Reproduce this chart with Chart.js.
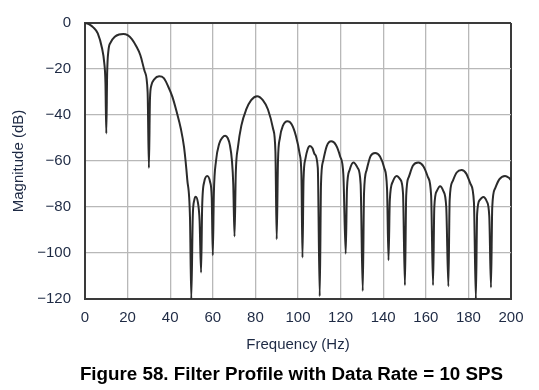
<!DOCTYPE html>
<html>
<head>
<meta charset="utf-8">
<script src="https://cdn.jsdelivr.net/npm/chart.js@4.4.0/dist/chart.umd.min.js"></script>
<style>
  html, body { margin: 0; padding: 0; background: #fff; }
  #wrap { position: relative; width: 539px; height: 390px; }
  #caption {
    position: absolute; left: 44px; width: 495px; top: 363px;
    text-align: center; font: bold 18.8px "Liberation Sans", Arial, sans-serif;
    color: #000; white-space: nowrap;
  }
</style>
</head>
<body>
<div id="wrap">
  <canvas id="chart" width="539" height="390"></canvas>
  <div id="caption">Figure 58. Filter Profile with Data Rate = 10 SPS</div>
</div>
<script>
// frequency (Hz) and magnitude (dB)
let freq = [
  0, 2, 4, 6, 8, 9, 9.6, 10,
  10.4, 11, 12, 14, 16, 18, 20, 22, 24, 26, 28, 29.4, 30,
  30.5, 31.2, 32.5, 34.8, 37, 39, 41, 43, 45, 46.5, 48, 49.3, 49.9,
  50.6, 51.3, 52, 53, 53.8, 54.5,
  55, 56, 57.4, 58.7, 59.5, 60,
  60.5, 61.5, 63, 64.5, 65.8, 67, 68, 69, 69.6, 70.2,
  70.8, 71.8, 73.4, 75.7, 78, 80.8, 83.5, 85.9, 88.3, 89.4, 90,
  90.6, 91.5, 93, 95, 97, 99, 100.8, 101.6, 102.1,
  102.6, 103.5, 104.5, 105.6, 106.8, 107.8, 109.3, 110.2,
  110.8, 111.8, 113.5, 115.6, 117.8, 119.8, 121.3, 122.4,
  123, 124.2, 126, 128, 129.4, 130.4,
  131, 132.2, 134, 136.2, 138.5, 140.5, 141.8, 142.5,
  143.1, 144.5, 146.3, 148, 149.3, 150.2,
  150.8, 152, 154, 156.5, 159, 161, 162.5, 163.4,
  164, 165.2, 166.7, 168.2, 169.6, 170.6,
  171.2, 172.5, 174.5, 176.8, 179, 181, 182.6, 183.5,
  184.1, 185.3, 187, 188.6, 189.8, 190.6,
  191.2, 192.5, 194.5, 197.2, 199, 200
];
let magnitude = [
  0, -0.6, -2, -4.5, -11, -17, -26, -48,
  -22, -12, -8.5, -6, -5, -4.8, -5.3, -7, -10, -14, -21, -30, -63,
  -33, -27, -24.5, -23.2, -24, -27.5, -32, -38.5, -46, -54, -68, -85, -120,
  -84, -77, -75.5, -78, -86, -108.5,
  -80, -69, -66.5, -69, -76, -101,
  -74, -60, -52.5, -49.8, -49, -50, -53, -60, -70, -92.8,
  -65, -54, -44.6, -37.6, -33.5, -31.8, -33.5, -37.6, -46, -56, -94,
  -60, -50, -44.5, -42.7, -44, -49, -57, -66, -102,
  -68, -59, -55, -53.5, -54.5, -57, -63, -118.8,
  -70, -60, -53.5, -51.4, -53, -58, -66, -100.3,
  -72, -64, -60.7, -63, -70, -116.5,
  -74, -64, -58, -56.5, -58, -63, -72, -103.2,
  -77, -69, -66.5, -68, -74, -114,
  -75, -67, -62, -60.7, -62.5, -67, -75, -114,
  -80, -73, -71, -73, -80, -114.5,
  -77, -69, -65, -63.9, -65.5, -70, -78, -120,
  -83, -77, -75.6, -77.5, -84, -115,
  -80, -72, -68, -66.5, -67.3, -68.3
];
let xTicks = [0, 20, 40, 60, 80, 100, 120, 140, 160, 180, 200];
let yTicks = [0, -20, -40, -60, -80, -100, -120];

let points = freq.map((f, i) => ({ x: f, y: magnitude[i] }));

const tickFont = { family: "'Liberation Sans', Arial, sans-serif", size: 15 };
const tickColor = '#1e2a44';
const gridColor = (lo, hi) => ctx => (ctx.tick && (ctx.tick.value === lo || ctx.tick.value === hi)) ? '#3a3a3a' : '#b8b8b8';
const gridWidth = (lo, hi) => ctx => (ctx.tick && (ctx.tick.value === lo || ctx.tick.value === hi)) ? 2 : 1.3;

new Chart(document.getElementById('chart'), {
  type: 'line',
  data: {
    datasets: [{
      data: points,
      borderColor: '#2b2b2b',
      borderWidth: 2,
      pointRadius: 0,
      fill: false,
      cubicInterpolationMode: 'monotone'
    }]
  },
  options: {
    responsive: false,
    animation: false,
    layout: { padding: { left: 0, right: 28, top: 11, bottom: 36 } },
    plugins: { legend: { display: false }, tooltip: { enabled: false } },
    scales: {
      x: {
        type: 'linear',
        min: 0, max: 200,
        afterBuildTicks: s => { s.ticks = xTicks.map(v => ({ value: v })); },
        afterFit: s => { s.height = 55; },
        ticks: { font: tickFont, color: tickColor, padding: 10, maxRotation: 0 },
        grid: { drawTicks: false, color: gridColor(0, 200), lineWidth: gridWidth(0, 200) },
        border: { display: true, color: '#3a3a3a', width: 2 },
        title: {
          display: true, text: 'Frequency (Hz)', color: '#1e2a44',
          font: { family: "'Liberation Sans', Arial, sans-serif", size: 15 },
          padding: { top: 0, bottom: 0 }
        }
      },
      y: {
        min: -120, max: 0,
        afterBuildTicks: s => { s.ticks = yTicks.map(v => ({ value: v })); },
        afterFit: s => { s.width = 85; },
        ticks: {
          font: tickFont, color: tickColor, padding: 14,
          callback: v => String(v).replace('-', '\u2212')
        },
        grid: { drawTicks: false, color: gridColor(-120, 0), lineWidth: gridWidth(-120, 0) },
        border: { display: true, color: '#3a3a3a', width: 2 },
        title: {
          display: true, text: 'Magnitude (dB)', color: '#1e2a44',
          font: { family: "'Liberation Sans', Arial, sans-serif", size: 15 },
          padding: { top: 10, bottom: 0 }
        }
      }
    }
  }
});
</script>
</body>
</html>
